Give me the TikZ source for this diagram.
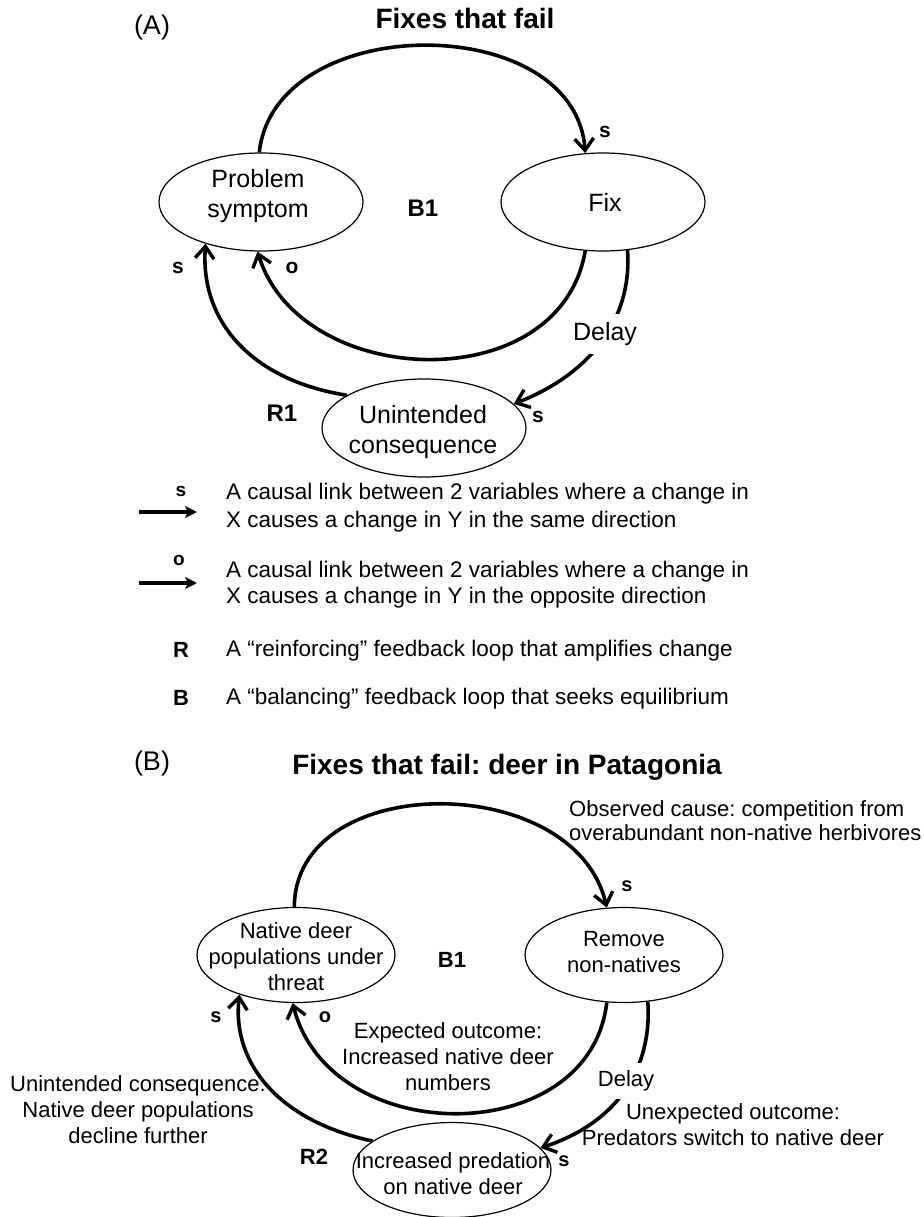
\documentclass[tikz,border=0pt]{standalone}
\usepackage{fontspec}
\setmainfont{Liberation Sans}
\usetikzlibrary{shapes.geometric,arrows.meta}
\frenchspacing
\begin{document}
\begin{tikzpicture}[x=1pt,y=-1pt,
  bub/.style={ellipse,draw,line width=1.2pt,inner sep=0pt},
  bubA/.style={bub,minimum width=204pt,minimum height=98pt},
  bubB/.style={bub,minimum width=198pt,minimum height=95pt},
  link/.style={line width=3.6pt,-{Straight Barb[length=12pt,width=19pt,line width=3.4pt]}},
  legarrow/.style={line width=3.2pt,-{Stealth[length=12pt,width=12pt,inset=3pt]}},
  txtA/.style={font=\fontsize{25}{30}\selectfont,align=center,inner sep=0pt},
  txtB/.style={font=\fontsize{22}{26}\selectfont,align=center,inner sep=0pt},
  signA/.style={font=\bfseries\fontsize{21}{25}\selectfont,inner sep=0pt},
  signB/.style={font=\bfseries\fontsize{20}{24}\selectfont,inner sep=0pt},
  loopA/.style={font=\bfseries\fontsize{24}{28}\selectfont,inner sep=0pt},
  loopB/.style={font=\bfseries\fontsize{22}{26}\selectfont,inner sep=0pt},
  ttl/.style={font=\bfseries\fontsize{28}{32}\selectfont,inner sep=0pt},
  panel/.style={font=\fontsize{27}{32}\selectfont,inner sep=0pt},
  leg/.style={font=\fontsize{22.5}{29}\selectfont,anchor=west,inner sep=0pt},
  legsign/.style={font=\bfseries\fontsize{19}{22}\selectfont,inner sep=0pt},
  legloop/.style={font=\bfseries\fontsize{22}{26}\selectfont,inner sep=0pt},
  delayA/.style={txtA,fill=white,inner xsep=2pt,inner ysep=8pt},
  delayB/.style={txtB,fill=white,inner xsep=2pt,inner ysep=8pt}
]
\path[use as bounding box] (0,0) rectangle (923,1217);

% ---------------- Panel A ----------------
\node[panel] (labA) at (152,28) {(A)};
\node[ttl] (titleA) at (465,18) {Fixes that fail};

\node[bubA] (ps) at (261,202) {};
\node[txtA] (pst) at (258,196) {Problem\\symptom};
\node[bubA] (fix) at (603,202) {};
\node[txtA] (fixt) at (605,202) {Fix};
\node[bubA] (uc) at (424,428) {};
\node[txtA] (uct) at (423,432) {Unintended\\consequence};

\draw[link] (fix.297) .. controls (632,310) and (600,370) .. (uc.15);
\node[delayA] (dlA) at (605,334) {Delay};

\draw[link] (ps.92) .. controls (275,10) and (575,10) .. (fix.110);
\draw[link] (fix.250) .. controls (560,400) and (300,390) .. (ps.266);
\draw[link] (uc.157) .. controls (250,380) and (200,320) .. (ps.217);

\node[signA] (sA1) at (605,132) {s};
\node[signA] (sA2) at (178,268) {s};
\node[signA] (oA) at (292,268) {o};
\node[signA] (sA3) at (538,417) {s};
\node[loopA] (rA) at (282,413) {R1};
\node[loopA] (bA) at (423,208) {B1};

% ---------------- Legend ----------------
\coordinate (la1) at (139,512);
\coordinate (la2) at (197,512);
\draw[legarrow] (la1) -- (la2);
\node[legsign] (ls) at (181,491) {s};
\node[leg] (l1) at (226,494) {A causal link between 2 variables where a change in};
\node[leg] (l2) at (226,522) {X causes a change in Y in the same direction};

\coordinate (lb1) at (139,583);
\coordinate (lb2) at (197,583);
\draw[legarrow] (lb1) -- (lb2);
\node[legsign] (lo) at (179,560) {o};
\node[leg] (l3) at (226,572) {A causal link between 2 variables where a change in};
\node[leg] (l4) at (226,598) {X causes a change in Y in the opposite direction};

\node[legloop] (lr) at (181,650) {R};
\node[leg] (l5) at (226,651) {A “reinforcing” feedback loop that amplifies change};
\node[legloop] (lbb) at (181,698) {B};
\node[leg] (l6) at (226,699) {A “balancing” feedback loop that seeks equilibrium};

% ---------------- Panel B ----------------
\node[panel] (labB) at (152,764) {(B)};
\node[ttl] (titleB) at (507,767) {Fixes that fail: deer in Patagonia};

\node[txtB,align=left,anchor=west,font=\fontsize{22}{24}\selectfont] (obs) at (569,821) {Observed cause: competition from\\overabundant non-native herbivores};

\node[bubB] (nd) at (296,955) {};
\node[txtB] (ndt) at (296,957) {Native deer\\populations under\\threat};
\node[bubB] (rm) at (624,955) {};
\node[txtB] (rmt) at (624,952) {Remove\\non-natives};
\node[bubB] (ip) at (452,1170) {};
\node[txtB] (ipt) at (453,1174) {Increased predation\\on native deer};

\draw[link] (rm.297) .. controls (652,1060) and (625,1120) .. (ip.14);
\node[delayB] (dlB) at (626,1081) {Delay};

\draw[link] (nd.92) .. controls (295,770) and (575,770) .. (rm.110);
\draw[link] (rm.250) .. controls (590,1150) and (330,1150) .. (nd.266);
\draw[link] (ip.160) .. controls (275,1120) and (232,1060) .. (nd.215);

\node[signB] (sB1) at (627,886) {s};
\node[signB] (sB2) at (216,1017) {s};
\node[signB] (oB) at (325,1017) {o};
\node[signB] (sB3) at (564,1161) {s};
\node[loopB] (rB) at (314,1157) {R2};
\node[loopB] (bB) at (452,960) {B1};

\node[txtB] (exp) at (448,1057) {Expected outcome:\\Increased native deer\\numbers};
\node[txtB] (unexp) at (733,1125) {Unexpected outcome:\\Predators switch to native deer};
\node[txtB] (unint) at (138,1110) {Unintended consequence:\\Native deer populations\\decline further};
\end{tikzpicture}
\end{document}
